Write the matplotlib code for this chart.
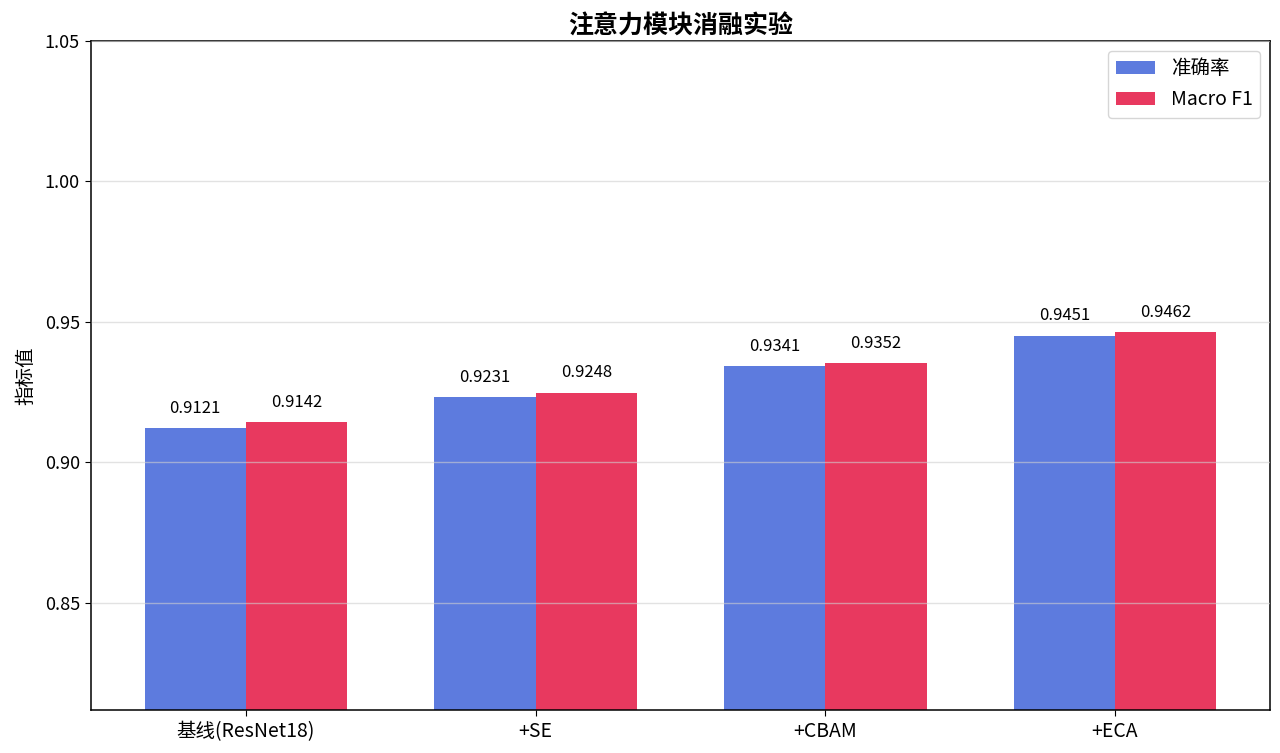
import matplotlib
matplotlib.use("Agg")
import matplotlib.pyplot as plt
import numpy as np

plt.rcParams['font.family'] = ['Noto Sans CJK SC', 'DejaVu Sans']
plt.rcParams['axes.unicode_minus'] = False

categories = ['基线(ResNet18)', '+SE', '+CBAM', '+ECA']
accuracy = [0.9121, 0.9231, 0.9341, 0.9451]
macro_f1 = [0.9142, 0.9248, 0.9352, 0.9462]
series_names = ['准确率', 'Macro F1']

fig = plt.figure(figsize=(12.8, 7.53), dpi=100)
ax = fig.add_axes([0.0711, 0.0571, 0.9211, 0.8885])

x = np.arange(len(categories))
w = 0.35
b1 = ax.bar(x - w/2, accuracy, w, color='#5D7BDE', label=series_names[0], zorder=2)
b2 = ax.bar(x + w/2, macro_f1, w, color='#E8395F', label=series_names[1], zorder=2)

for bars in (b1, b2):
    for r in bars:
        h = r.get_height()
        ax.text(r.get_x() + r.get_width()/2, h + 0.004, f'{h:.4f}',
                ha='center', va='bottom', fontsize=12)

ax.set_ylim(min(accuracy) * 0.89, 1.05)
ax.set_yticks([0.85, 0.90, 0.95, 1.00, 1.05])
ax.set_xticks(x)
ax.set_xticklabels(categories, fontsize=14)
ax.tick_params(axis='y', labelsize=13)
ax.tick_params(length=4.5)
ax.set_ylabel('指标值', fontsize=14, labelpad=6)
ax.set_title('注意力模块消融实验', fontsize=18, fontweight='bold', pad=5)
ax.grid(axis='y', color='#d0d0d0', alpha=0.6, linewidth=1, zorder=3)
ax.set_axisbelow(False)
for s in ax.spines.values():
    s.set_color('black')
    s.set_linewidth(1.1)
ax.legend(loc='upper right', fontsize=14)

fig.savefig('out.png', dpi=100)
